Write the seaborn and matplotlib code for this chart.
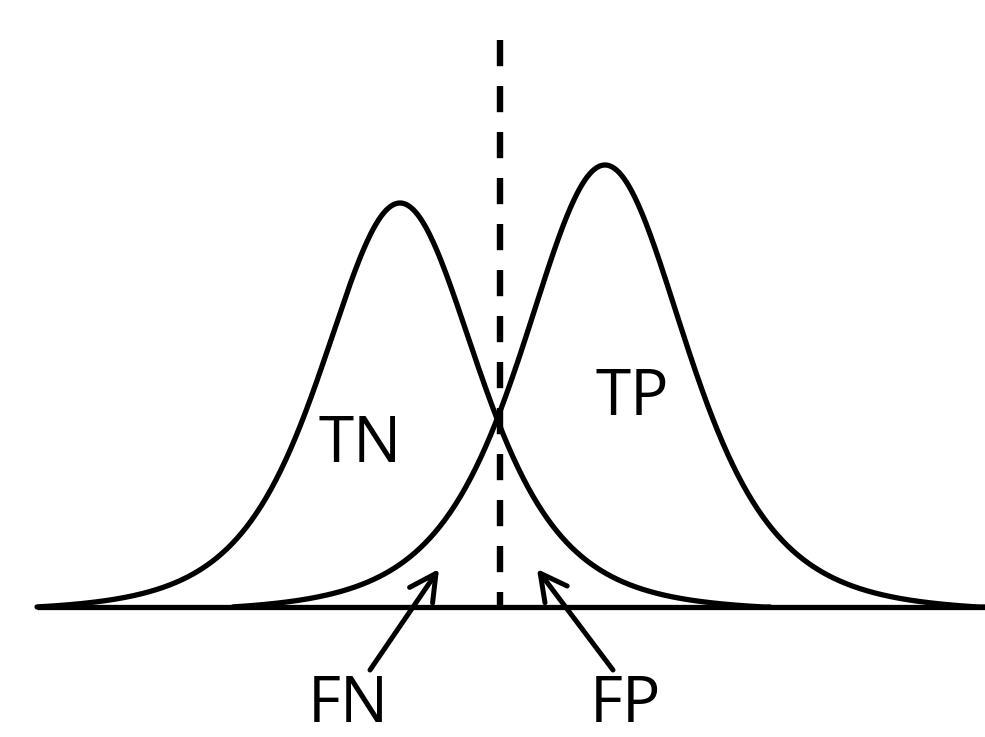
import numpy as np
import pandas as pd
import matplotlib
matplotlib.use("Agg")
import matplotlib.pyplot as plt
import seaborn as sns

# two class score distributions (heavy-tailed bell curves), pixel-like units
curve_names = ["negative", "positive"]
curve_centers = [400, 605]
curve_heights = [404, 442]
curve_scales = [82, 85.5]
curve_ranges = [(37, 770), (233, 985)]
tail_nu = 4

threshold_x = 500
threshold_top = 567
baseline_range = (37, 985)

region_labels = ["TN", "TP", "FN", "FP"]
region_label_x = [360, 632, 348, 625]
region_label_y = [145, 192, -115, -115]

# arrows pointing at the overlap regions (tail -> tip)
arrow_tails = [(370, -63), (613, -63)]
arrow_tips = [(439, 38), (537, 38)]


def bell(x, mu, h, s, nu):
    z = (x - mu) / s
    return h * (1 + z ** 2 / nu) ** (-(nu + 1) / 2)


rows = []
for name, mu, h, s, (lo, hi) in zip(curve_names, curve_centers, curve_heights,
                                    curve_scales, curve_ranges):
    xs = np.linspace(lo, hi, 600)
    ys = bell(xs, mu, h, s, tail_nu)
    # let the tails settle onto the baseline at the ends
    floor = max(bell(lo, mu, h, s, tail_nu), bell(hi, mu, h, s, tail_nu))
    ys = np.clip(ys - floor * (1 - ys / h), 0, None)
    rows.append(pd.DataFrame({"x": xs, "y": ys, "dist": name}))
df = pd.concat(rows, ignore_index=True)

sns.set_style("white")
plt.rcParams["font.family"] = ["Open Sans", "DejaVu Sans"]

fig = plt.figure(figsize=(9.85, 7.37), dpi=100)
ax = fig.add_axes([0, 0, 1, 1])

sns.lineplot(data=df, x="x", y="y", units="dist", estimator=None, color="black",
             linewidth=3.8, ax=ax, legend=False, sort=False)

ax.plot(baseline_range, [0, 0], color="black", linewidth=3.8, solid_capstyle="butt")
ax.plot([threshold_x, threshold_x], [threshold_top, 0], color="black",
        linewidth=4.6, linestyle=(0, (4.1, 3.1)), dash_capstyle="butt")

for lab, lx, ly in zip(region_labels, region_label_x, region_label_y):
    ax.text(lx, ly, lab, ha="center", va="baseline", fontsize=46, color="black")

for tail, tip in zip(arrow_tails, arrow_tips):
    ax.annotate("", xy=tip, xytext=tail,
                arrowprops=dict(arrowstyle="->, head_length=0.95, head_width=0.5",
                                mutation_scale=20, color="black", lw=3.6,
                                shrinkA=0, shrinkB=0))

ax.set_xlim(0, 985)
ax.set_ylim(-130, 607)
ax.set_axis_off()

fig.savefig("out.png", dpi=100)
